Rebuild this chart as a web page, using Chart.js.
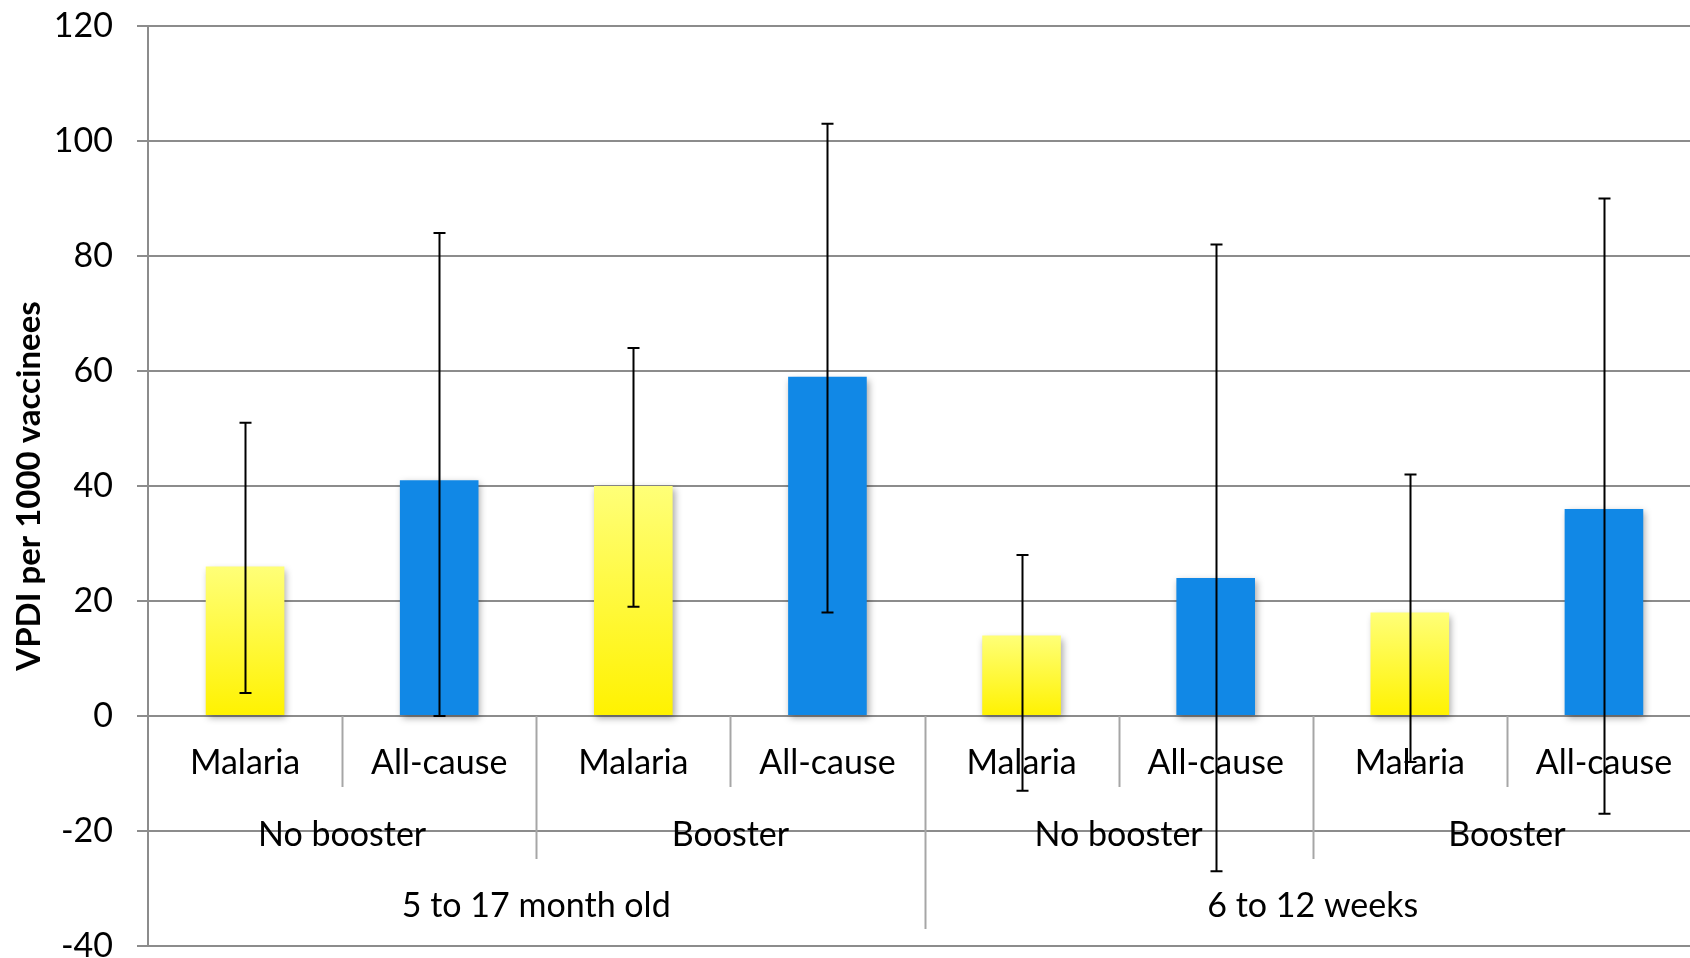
<!DOCTYPE html>
<html>
<head>
<meta charset="utf-8">
<script src="https://cdn.jsdelivr.net/npm/chart.js@4"></script>
<style>
  body { margin: 0; background: #fff; overflow: hidden; }
  #wrap { width: 1701px; height: 958px; }
</style>
</head>
<body>
<div id="wrap"><canvas id="vpdiChart"></canvas></div>
<script>
// --- données ---
const causes = ['Malaria', 'All-cause', 'Malaria', 'All-cause', 'Malaria', 'All-cause', 'Malaria', 'All-cause'];
const boosterGroups = ['No booster', 'Booster', 'No booster', 'Booster'];
const ageGroups = ['5 to 17 month old', '6 to 12 weeks'];
const vpdi = [26, 41, 40, 59, 14, 24, 18, 36];
const ciLow = [4, 0, 19, 18, -13, -27, -8, -17];
const ciHigh = [51, 84, 64, 103, 28, 82, 42, 90];
const yTicks = [-40, -20, 0, 20, 40, 60, 80, 100, 120];

const FONT = 'Lato, "Open Sans", sans-serif';
const GRID = '#8c8c8c';
const SEP = '#a6a6a6';
const BLUE = '#1188e6';

// dégradé jaune pour chaque barre
function barColor(ctx) {
    if (ctx.dataIndex % 2 === 1) return BLUE;
    const chart = ctx.chart;
    const y = chart.scales.y;
    if (!y || y.top === undefined) return '#fff200';
    const top = y.getPixelForValue(vpdi[ctx.dataIndex]);
    const bottom = y.getPixelForValue(0);
    const g = chart.ctx.createLinearGradient(0, top, 0, bottom);
    g.addColorStop(0, '#ffff78');
    g.addColorStop(1, '#fff200');
    return g;
}

// --- ombre des barres ---
const shadowPlugin = {
    id: 'shadow',
    beforeDatasetsDraw(chart) {
        const c = chart.ctx;
        c.save();
        c.shadowColor = 'rgba(0,0,0,0.35)';
        c.shadowBlur = 7;
        c.shadowOffsetX = 2;
        c.shadowOffsetY = 3;
    },
    afterDatasetsDraw(chart) {
        chart.ctx.restore();
    }
};

// --- barres d'erreur ---
const errorBars = {
    id: 'errorBars',
    afterDatasetsDraw(chart) {
        const c = chart.ctx, x = chart.scales.x, y = chart.scales.y;
        c.save();
        c.strokeStyle = '#000';
        c.lineWidth = 2;
        vpdi.forEach((v, i) => {
            const px = Math.round(x.getPixelForValue(i)) + 0.5;
            const hi = y.getPixelForValue(ciHigh[i]);
            const lo = y.getPixelForValue(ciLow[i]);
            c.beginPath();
            c.moveTo(px, hi); c.lineTo(px, lo);
            c.moveTo(px - 6, hi); c.lineTo(px + 6, hi);
            c.moveTo(px - 6, lo); c.lineTo(px + 6, lo);
            c.stroke();
        });
        c.restore();
    }
};

// --- axe des catégories à plusieurs niveaux ---
const multiAxis = {
    id: 'multiAxis',
    afterDraw(chart) {
        const c = chart.ctx, x = chart.scales.x, y = chart.scales.y;
        const y0 = y.getPixelForValue(0);
        const half = (x.getPixelForValue(1) - x.getPixelForValue(0)) / 2;
        const edge = i => x.getPixelForValue(i) - half;
        c.save();
        // séparateurs
        c.strokeStyle = SEP;
        c.lineWidth = 2;
        for (let i = 1; i <= causes.length; i++) {
            let len = 71;
            if (i % 4 === 0) len = 213;
            else if (i % 2 === 0) len = 143;
            const px = Math.round(edge(i)) + 0.5;
            c.beginPath();
            c.moveTo(px, y0); c.lineTo(px, y0 + len);
            c.stroke();
        }
        // textes
        c.fillStyle = '#000';
        c.textAlign = 'center';
        c.textBaseline = 'middle';
        c.font = '34px ' + FONT;
        causes.forEach((t, i) => c.fillText(t, x.getPixelForValue(i), y0 + 47));
        boosterGroups.forEach((t, k) => c.fillText(t, edge(2 * k + 1), y0 + 119));
        ageGroups.forEach((t, k) => c.fillText(t, edge(4 * k + 2), y0 + 190));
        c.restore();
    }
};

new Chart(document.getElementById('vpdiChart'), {
    type: 'bar',
    data: {
        labels: causes,
        datasets: [{
            data: vpdi,
            backgroundColor: barColor,
            borderWidth: 0,
            barPercentage: 0.405,
            categoryPercentage: 1
        }]
    },
    options: {
        responsive: true,
        maintainAspectRatio: false,
        animation: false,
        layout: { padding: { top: 26, bottom: 12, left: 0, right: 0 } },
        plugins: { legend: { display: false }, tooltip: { enabled: false } },
        scales: {
            x: { display: false },
            y: {
                min: -40,
                max: 120,
                afterFit(scale) {
                    scale.width = 148;
                    scale.paddingTop = 0;
                    scale.paddingBottom = 0;
                },
                afterBuildTicks(scale) { scale.ticks = yTicks.map(v => ({ value: v })); },
                ticks: { color: '#000', font: { family: FONT, size: 34 }, padding: 24 },
                grid: { color: GRID, lineWidth: 2, tickLength: 11 },
                border: { display: true, color: GRID, width: 2 },
                title: {
                    display: true,
                    text: 'VPDI per 1000 vaccinees',
                    color: '#000',
                    font: { family: FONT, size: 33, weight: 'bold' },
                    padding: { top: 10, bottom: 0 }
                }
            }
        }
    },
    plugins: [shadowPlugin, errorBars, multiAxis]
});
</script>
</body>
</html>
